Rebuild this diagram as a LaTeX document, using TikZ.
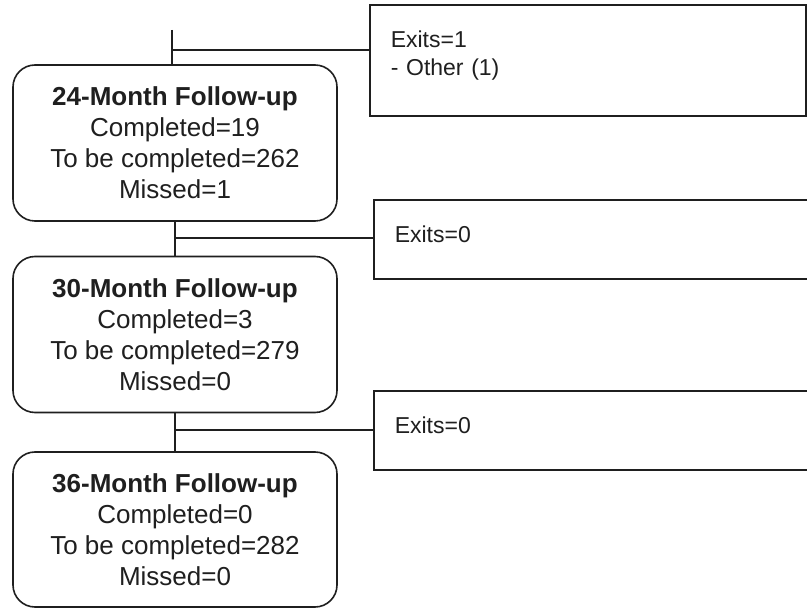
\documentclass[tikz,border=0pt]{standalone}
\usepackage{fontspec}
\setmainfont{Liberation Sans}
\begin{document}
\begin{tikzpicture}[x=1pt,y=-1pt,
  linecol/.style={draw=black!88, line width=1.6pt},
  stagebox/.style={linecol, rectangle, rounded corners=22pt, minimum width=324pt,
    minimum height=156pt, align=center, inner sep=0pt, text=black!88,
    font=\fontsize{26}{31}\selectfont},
  exitbox/.style={linecol, rectangle, anchor=north west, align=left,
    inner xsep=21pt, inner ysep=0pt, text=black!88,
    font=\fontsize{23}{28}\selectfont, execute at end node={\endgraf\vspace{10pt}}},
  conn/.style={draw=black!88, line width=1.5pt}]
\clip (0,0) rectangle (807,609);
\fill[white] (0,0) rectangle (807,609);
% stage boxes
\node[stagebox] (b1) at (175,143) {\textbf{24-Month Follow-up}\\Completed=19\\To be completed=262\\Missed=1};
\node[stagebox] (b2) at (175,334.5) {\textbf{30-Month Follow-up}\\Completed=3\\To be completed=279\\Missed=0};
\node[stagebox, minimum height=155pt] (b3) at (175,529.5) {\textbf{36-Month Follow-up}\\Completed=0\\To be completed=282\\Missed=0};
% exit boxes
\node[exitbox, text width=394pt, minimum height=111pt] (e1) at (369,4) {Exits=1\\- Other (1)};
\node[exitbox, text width=408pt, minimum height=79pt] (e2) at (373,199) {Exits=0};
\node[exitbox, text width=408pt, minimum height=79pt] (e3) at (373,390) {Exits=0};
% connectors
\coordinate (top) at (172,30);
\coordinate (j1) at (172,50);
\coordinate (j2) at (175,238);
\coordinate (j3) at (175,430);
\draw[conn] (top) -- (top |- b1.north);
\draw[conn] (j1) -- (j1 -| e1.west);
\draw[conn] (b1.south) -- (b2.north);
\draw[conn] (j2) -- (j2 -| e2.west);
\draw[conn] (b2.south) -- (b3.north);
\draw[conn] (j3) -- (j3 -| e3.west);
\end{tikzpicture}
\end{document}
